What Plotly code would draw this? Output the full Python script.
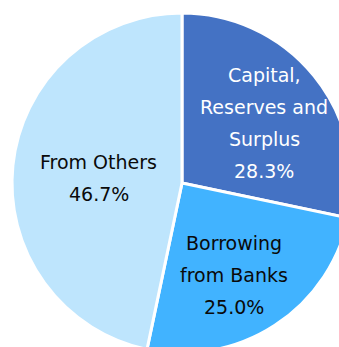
import plotly.graph_objects as go

labels = ["Capital, Reserves and Surplus", "Borrowing from Banks", "From Others"]
label_lines = [["Capital,", "Reserves and", "Surplus"], ["Borrowing", "from Banks"], ["From Others"]]
values = [28.3, 25.0, 46.7]
colors = ["#4472C4", "#41B3FF", "#BEE5FD"]
text_colors = ["#FFFFFF", "#0A0A0A", "#0A0A0A"]

W, H = 352, 353
ML, MT = 12, 13
PLOT = 340
# label block centres (pixel, layout only)
label_centres = [(264, 123), (233.5, 274.5), (98.5, 177.5)]

fig = go.Figure(go.Pie(
    labels=labels,
    values=values,
    sort=False,
    direction="clockwise",
    rotation=0,
    marker=dict(colors=colors, line=dict(color="#FFFFFF", width=3)),
    textinfo="none",
    hoverinfo="label+percent",
    showlegend=False,
))

annotations = []
LINE = 32
for lines, v, tc, (cx, cy) in zip(label_lines, values, text_colors, label_centres):
    px = (cx - ML) / PLOT
    py = 1 - (cy - MT) / PLOT
    all_lines = lines + [f"{v:.1f}%"]
    n = len(all_lines)
    for i, t in enumerate(all_lines):
        annotations.append(dict(
            x=px, y=py, xref="paper", yref="paper",
            text=t, showarrow=False,
            xanchor="center", yanchor="middle",
            yshift=((n - 1) / 2 - i) * LINE,
            font=dict(family="DejaVu Sans", size=19, color=tc),
        ))

fig.update_layout(
    width=W, height=H,
    margin=dict(l=ML, t=MT, r=0, b=0, pad=0),
    paper_bgcolor="#FFFFFF",
    plot_bgcolor="#FFFFFF",
    annotations=annotations,
)

fig.write_html(
    "out.html",
    config={"displayModeBar": False},
    post_script="document.documentElement.style.overflow='hidden';document.body.style.overflow='hidden';document.body.style.margin='0';",
)
